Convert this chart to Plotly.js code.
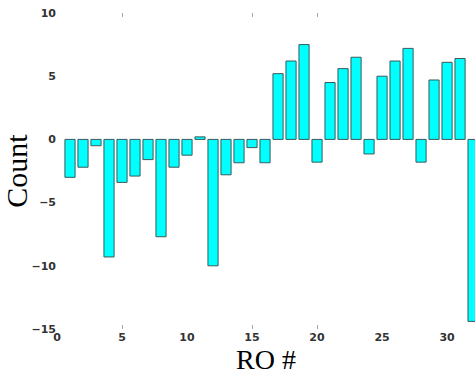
<!DOCTYPE html>
<html><head><meta charset="utf-8">
<script src="https://cdn.plot.ly/plotly-3.0.1.min.js"></script>
<style>html,body{margin:0;padding:0;background:#fff}#chart{width:475px;height:375px}</style>
</head><body><div id="chart"></div>
<script>
const roNumbers = [1,2,3,4,5,6,7,8,9,10,11,12,13,14,15,16,17,18,19,20,21,22,23,24,25,26,27,28,29,30,31,32];
const counts = [-3.0,-2.2,-0.5,-9.3,-3.4,-2.9,-1.6,-7.7,-2.2,-1.25,0.2,-10.0,-2.8,-1.85,-0.65,-1.85,5.2,6.2,7.5,-1.8,4.5,5.6,6.5,-1.15,5.0,6.2,7.2,-1.8,4.7,6.1,6.4,-14.4];
const xTickVals = [0,5,10,15,20,25,30];
const yTickVals = [-15,-10,-5,0,5,10];
const markTicks = [5,15,20];

const trace = {
  type: 'bar', x: roNumbers, y: counts, width: 0.78,
  marker: {color: '#00ffff', line: {color: '#3a5a5a', width: 1}},
  hoverinfo: 'x+y'
};
const ghost = {type:'scatter', x:[0], y:[0], xaxis:'x2', mode:'markers', marker:{opacity:0}, hoverinfo:'skip', showlegend:false};
const layout = {
  width: 475, height: 375,
  margin: {l: 57, r: 0, t: 13, b: 46},
  paper_bgcolor: '#fff', plot_bgcolor: '#fff',
  showlegend: false, bargap: 0.2,
  xaxis: {
    range: [0, 32.15], tickvals: xTickVals, ticks: '', showgrid: false, zeroline: false, showline: false,
    tickfont: {family: 'DejaVu Sans', size: 11, color: '#333', weight: 'bold'},
    title: {text: 'RO #', font: {family: 'Liberation Serif', size: 28, color: '#000'}, standoff: 4}
  },
  xaxis2: {
    overlaying: 'x', matches: 'x', tickvals: markTicks, ticks: 'inside', ticklen: 4, tickcolor: '#aaa', tickwidth: 1,
    mirror: 'ticks', showline: false, showticklabels: false, showgrid: false, zeroline: false, side: 'bottom'
  },
  yaxis: {
    range: [-15, 10], tickvals: yTickVals, ticks: '', showgrid: false, zeroline: false, showline: false,
    tickfont: {family: 'DejaVu Sans', size: 11, color: '#333', weight: 'bold'},
    title: {text: 'Count', font: {family: 'Liberation Serif', size: 30, color: '#000'}, standoff: 6}
  }
};
Plotly.newPlot('chart', [trace, ghost], layout, {displayModeBar: false, staticPlot: true});
</script></body></html>
